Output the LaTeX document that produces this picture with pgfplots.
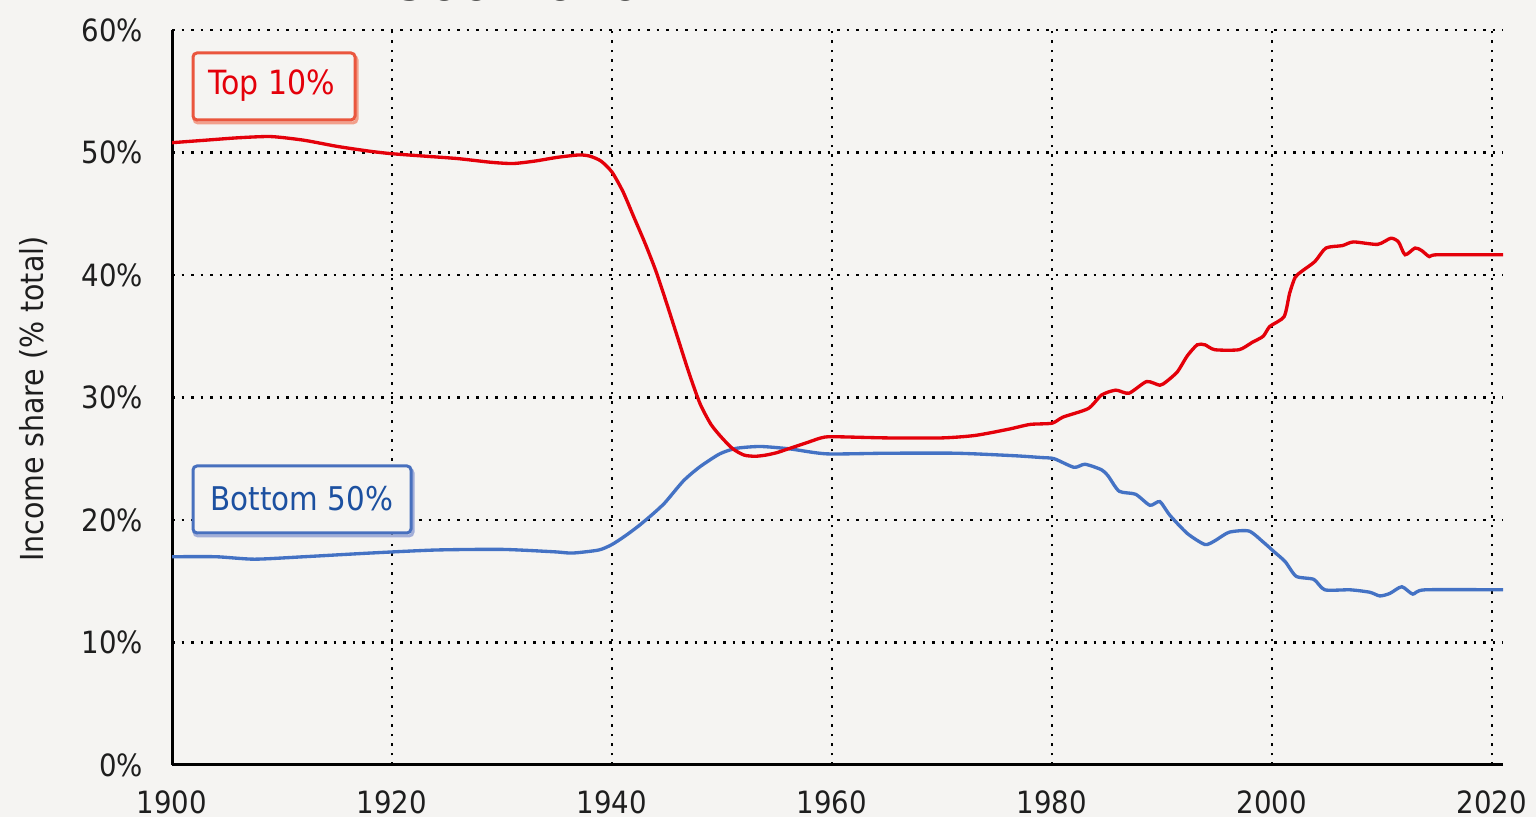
\documentclass[border=0pt]{standalone}
\usepackage{fontspec}
\setmainfont{DejaVu Sans Condensed}
\usepackage{pgfplots}
\pgfplotsset{compat=1.18}
\definecolor{bg}{RGB}{245,244,242}
\definecolor{topred}{RGB}{228,0,10}
\definecolor{botblue}{RGB}{68,114,196}
\definecolor{redbox}{RGB}{234,86,62}
\definecolor{redboxlt}{RGB}{242,160,140}
\definecolor{bluebox}{RGB}{72,112,190}
\definecolor{blueboxlt}{RGB}{162,174,216}
\definecolor{bluetext}{RGB}{28,80,160}
\definecolor{ticktext}{RGB}{30,30,30}
\begin{document}
\begin{tikzpicture}
\fill[bg] (0,0) rectangle (460.8pt,245.1pt);
\useasboundingbox (0,0) rectangle (460.8pt,245.1pt);
\begin{scope}
\clip (0,0) rectangle (460.8pt,245.1pt);
\node[anchor=base west, inner sep=0pt, font=\fontsize{15.5}{18}\selectfont\bfseries, text=ticktext] at (108.9pt,245.0pt) {1900-2020};
\end{scope}
\begin{axis}[
  at={(51.6pt,15.6pt)}, anchor=south west,
  scale only axis, width=399.3pt, height=220.5pt,
  xmin=1900, xmax=2021, ymin=0, ymax=60,
  axis x line=bottom, axis y line=left,
  axis line style={-, line width=0.9pt, black},
  xtick={1900,1920,...,2020}, ytick={0,10,...,60},
  major tick length=0pt,
  grid=major,
  major grid style={line width=0.75pt, black, dash pattern=on 0.75pt off 2.1pt},
  /pgf/number format/assume math mode=true,
  tick label style={font=\fontsize{9.2}{11}\selectfont, text=ticktext},
  yticklabel={\pgfmathprintnumber{\tick}\%},
  x tick label style={/pgf/number format/1000 sep={}, yshift=-4.3pt},
  y tick label style={xshift=-5.2pt},
]
\addplot[botblue, line width=1.0pt, smooth, tension=0.4] coordinates {
(1900,17.0) (1904,17.0) (1907.5,16.8) (1912,17.0) (1918,17.3) (1924,17.55)
(1930,17.6) (1934.8,17.4) (1936.4,17.3) (1938.8,17.55) (1940,18.0) (1941.2,18.7)
(1942.4,19.5) (1943.6,20.4) (1944.8,21.4) (1946.5,23.2) (1948,24.35) (1949.8,25.4)
(1951.3,25.85) (1953.5,26.0) (1956.2,25.8) (1959.5,25.4) (1965,25.45) (1971.3,25.45)
(1976.5,25.25) (1979,25.1) (1980.2,25.0) (1982,24.3) (1983,24.55) (1984.5,24.1)
(1985.1,23.6) (1986.1,22.35) (1987.6,22.1) (1988.9,21.2) (1989.8,21.5) (1990.7,20.4)
(1992.3,18.9) (1993.9,18.0) (1994.8,18.3) (1996.1,19.0) (1997.9,19.1) (1999.2,18.2)
(2000.2,17.4) (2001.2,16.6) (2002.2,15.4) (2003.8,15.15) (2004.8,14.3) (2007.1,14.3)
(2008.9,14.1) (2009.8,13.8) (2010.7,14.0) (2011.8,14.55) (2012.8,13.95) (2013.9,14.3)
(2021,14.3)
};
\addplot[topred, line width=1.0pt, smooth, tension=0.4] coordinates {
(1900,50.8) (1903,51.0) (1906,51.2) (1909,51.3) (1912,51.0) (1915,50.5)
(1918,50.1) (1920,49.9) (1923,49.7) (1926,49.5) (1929,49.2) (1931,49.1)
(1933,49.3) (1935,49.6) (1937,49.8) (1938,49.7) (1939,49.3) (1940,48.4)
(1941,46.8) (1942,44.7) (1943,42.6) (1944,40.3) (1945,37.6) (1946,34.8)
(1947,32.0) (1948,29.5) (1949,27.8) (1950,26.7) (1951,25.8) (1952,25.3)
(1953,25.2) (1954,25.3) (1955,25.5) (1956,25.8) (1957,26.1) (1958,26.4)
(1959,26.7) (1960,26.8) (1965,26.7) (1970,26.7) (1973,26.9) (1976,27.4)
(1978,27.8) (1980,27.9) (1981,28.4) (1983.3,29.1) (1984.5,30.2) (1985.8,30.6)
(1987.0,30.35) (1988.6,31.3) (1989.8,31.0) (1990.4,31.3) (1991.4,32.1) (1992.3,33.4)
(1993.2,34.3) (1993.9,34.3) (1994.8,33.9) (1997.0,33.9) (1998.2,34.5) (1999.2,35.0)
(1999.8,35.8) (2001.1,36.6) (2001.6,38.5) (2002.1,39.8) (2002.7,40.3) (2003.9,41.1)
(2004.9,42.2) (2006.4,42.4) (2007.4,42.7) (2009.6,42.5) (2010.8,43.0) (2011.5,42.7)
(2012.1,41.65) (2013.0,42.2) (2013.6,42.0) (2014.3,41.5) (2015,41.65) (2021,41.65)
};
\end{axis}
\begin{scope}[x=0.3pt,y=0.3pt]
% Top 10% box
\draw[redboxlt, line width=0.9pt, rounded corners=1.2pt] (194,694) rectangle (357,761);
\draw[redbox, fill=bg, line width=0.9pt, rounded corners=1.2pt] (193,697) rectangle (355,764);
\node[font=\fontsize{10}{12}\selectfont, text=topred] at (272,731) {Top 10\%};
% Bottom 50% box
\draw[blueboxlt, line width=0.9pt, rounded corners=1.2pt] (194,281) rectangle (413,348);
\draw[bluebox, fill=bg, line width=0.9pt, rounded corners=1.2pt] (193,284) rectangle (411,351);
\node[font=\fontsize{9.8}{12}\selectfont, text=bluetext] at (302,318) {Bottom 50\%};
% y label
\node[rotate=90, font=\fontsize{9.5}{11}\selectfont, text=ticktext] at (34,418) {Income share (\% total)};
\end{scope}
\end{tikzpicture}
\end{document}
